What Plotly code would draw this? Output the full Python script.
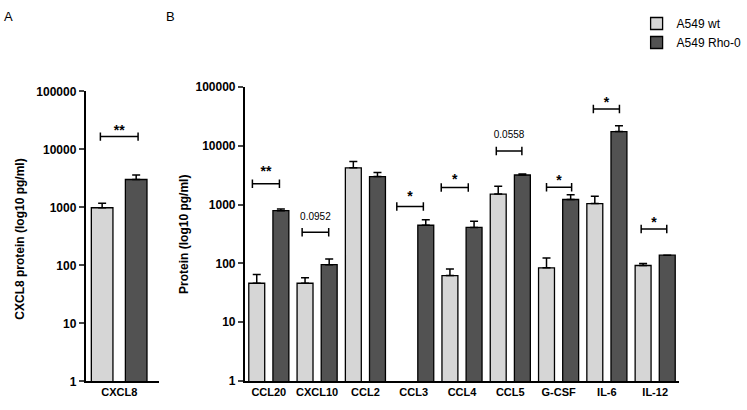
import plotly.graph_objects as go

# ---------------- data ----------------
cat_a = ["CXCL8"]
a_wt = [985]
a_wt_sem = [190]
a_rho = [3020]
a_rho_sem = [610]

cats = ["CCL20", "CXCL10", "CCL2", "CCL3", "CCL4", "CCL5", "G-CSF", "IL-6", "IL-12"]
wt = [46, 46, 4200, None, 62, 1507, 84, 1038, 92]
wt_sem = [19, 11, 1180, None, 18, 548, 39, 340, 8]
rho = [787, 95, 2985, 445, 408, 3180, 1218, 17400, 138]
rho_sem = [53, 24, 530, 105, 114, 120, 250, 4400, None]

ytick_vals = [1, 10, 100, 1000, 10000, 100000]
ytick_text = ["1", "10", "100", "1000", "10000", "100000"]

# significance labels (group, label)
sig_b_groups = [0, 1, 3, 4, 5, 6, 7, 8]
sig_b_labels = ["**", "0.0952", "*", "*", "0.0558", "*", "*", "*"]
sig_a_labels = ["**"]

# ---------------- layout of the annotations (positions) ----------------
# bracket: (x0 offset, x1 offset, line height log10, text height log10)
sig_b_pos = [
    (-0.34, 0.22, 3.355, 3.54),
    (-0.31, 0.24, 2.53, 2.78),
    (-0.35, 0.20, 2.966, 3.12),
    (-0.43, 0.13, 3.29, 3.40),
    (-0.29, 0.24, 3.91, 4.18),
    (-0.25, 0.27, 3.294, 3.39),
    (-0.28, 0.26, 4.624, 4.71),
    (-0.29, 0.24, 2.583, 2.67),
]
sig_a_pos = [(-0.28, 0.278, 4.22, 4.31)]

LIGHT = "#d6d6d6"
DARK = "#525252"
FONT = "Liberation Sans, Arial, sans-serif"

fig = go.Figure()


def err(sems):
    return dict(type="data", symmetric=False,
                array=[s if s is not None else None for s in sems],
                arrayminus=[0 if s is not None else None for s in sems],
                color="black", thickness=1.5, width=4, visible=True)


# panel A
fig.add_trace(go.Bar(x=[0], y=a_wt, width=0.32, offset=-0.414,
                     marker=dict(color=LIGHT, line=dict(color="black", width=1.3)),
                     error_y=err(a_wt_sem), xaxis="x", yaxis="y",
                     showlegend=False, name="A549 wt"))
fig.add_trace(go.Bar(x=[0], y=a_rho, width=0.32, offset=0.09,
                     marker=dict(color=DARK, line=dict(color="black", width=1.3)),
                     error_y=err(a_rho_sem), xaxis="x", yaxis="y",
                     showlegend=False, name="A549 Rho-0"))

# panel B
xs = list(range(len(cats)))
fig.add_trace(go.Bar(x=xs, y=wt, width=0.33, offset=-0.415,
                     marker=dict(color=LIGHT, line=dict(color="black", width=1.3)),
                     error_y=err(wt_sem), xaxis="x2", yaxis="y2",
                     name="A549 wt"))
fig.add_trace(go.Bar(x=xs, y=rho, width=0.33, offset=0.085,
                     marker=dict(color=DARK, line=dict(color="black", width=1.3)),
                     error_y=err(rho_sem), xaxis="x2", yaxis="y2",
                     name="A549 Rho-0"))


def bracket(xc, pos, label, xa, ya, ticklog=0.072):
    x0, x1, yl, yt = pos
    a, b = xc + x0, xc + x1
    lo, mid, hi = 10 ** (yl - ticklog), 10 ** yl, 10 ** (yl + ticklog)
    fig.add_trace(go.Scatter(x=[a, a, a, b, b, b], y=[lo, hi, mid, mid, hi, lo],
                             mode="lines", line=dict(color="black", width=1.5),
                             xaxis=xa, yaxis=ya, showlegend=False, hoverinfo="skip"))
    is_num = label[0].isdigit()
    fig.add_trace(go.Scatter(x=[(a + b) / 2], y=[10 ** yt], mode="text", text=[label],
                             textposition="middle center",
                             textfont=dict(size=10 if is_num else 14, color="black",
                                           family=FONT,
                                           weight="normal" if is_num else "bold"),
                             xaxis=xa, yaxis=ya, showlegend=False, hoverinfo="skip"))


for g, lab, p in zip(sig_b_groups, sig_b_labels, sig_b_pos):
    bracket(g, p, lab, "x2", "y2")
for lab, p in zip(sig_a_labels, sig_a_pos):
    bracket(0, p, lab, "x", "y")

line_common = dict(showline=True, linecolor="black", linewidth=1.5, showgrid=False,
                   zeroline=False)
yfont = dict(family=FONT, size=12, color="black", weight="bold")
xfont = dict(family=FONT, size=11, color="black", weight="bold")

fig.update_layout(
    width=747, height=410, margin=dict(l=0, r=0, t=0, b=0),
    paper_bgcolor="white", plot_bgcolor="white",
    barmode="overlay",
    font=dict(family=FONT, color="black"),
    xaxis=dict(domain=[0.1151, 0.2142], range=[-0.5, 0.59], tickvals=[0], ticktext=cat_a,
               ticks="", anchor="y", tickfont=xfont, **line_common),
    yaxis=dict(domain=[0.0544, 0.7871], type="log", range=[0, 5], tickvals=ytick_vals,
               ticktext=ytick_text, ticks="outside", ticklen=5, tickwidth=1.5,
               anchor="x", tickfont=yfont, **line_common),
    xaxis2=dict(domain=[0.3293, 0.9143], range=[-0.5, 8.5], tickvals=xs, ticktext=cats,
                ticks="", anchor="y2", tickfont=xfont, **line_common),
    yaxis2=dict(domain=[0.0554, 0.7983], type="log", range=[0, 5], tickvals=ytick_vals,
                ticktext=ytick_text, ticks="outside", ticklen=5, tickwidth=1.5,
                anchor="x2", tickfont=yfont, **line_common),
    legend=dict(x=0.8568, y=0.995, xanchor="left", yanchor="top",
                font=dict(family=FONT, size=12, color="black"),
                itemwidth=30, tracegroupgap=0, bgcolor="rgba(0,0,0,0)"),
    showlegend=True,
)

fig.add_annotation(text="A", x=2 / 747, y=1 - 10 / 410, xref="paper", yref="paper",
                   showarrow=False, xanchor="left", yanchor="middle",
                   font=dict(size=13, family=FONT))
fig.add_annotation(text="B", x=165 / 747, y=1 - 10 / 410, xref="paper", yref="paper",
                   showarrow=False, xanchor="left", yanchor="middle",
                   font=dict(size=13, family=FONT))
fig.add_annotation(text="CXCL8 protein (log10 pg/ml)", x=20 / 747, y=1 - 240 / 410,
                   xref="paper", yref="paper", showarrow=False, textangle=-90,
                   xanchor="center", yanchor="middle",
                   font=dict(size=12, family=FONT, weight="bold"))
fig.add_annotation(text="Protein (log10 pg/ml)", x=185 / 747, y=1 - 236 / 410,
                   xref="paper", yref="paper", showarrow=False, textangle=-90,
                   xanchor="center", yanchor="middle",
                   font=dict(size=12, family=FONT, weight="bold"))

fig.write_html("out.html",
               config={"displayModeBar": False},
               post_script="document.body.style.margin='0px';"
                           "document.body.style.padding='0px';"
                           "document.body.style.overflow='hidden';")
